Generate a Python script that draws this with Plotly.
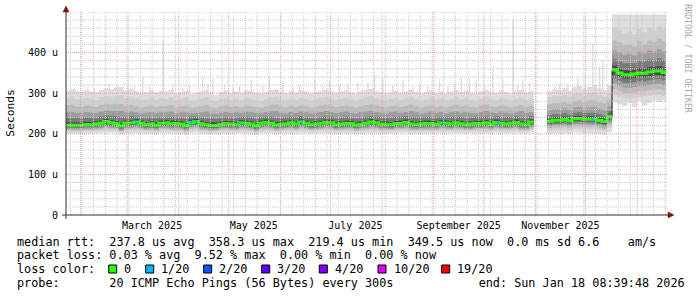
import pandas as pd
import plotly.graph_objects as go

# ---------------- data ----------------
x_start = "2025-01-23 08:39:48"
x_end = "2026-01-18 08:39:48"
seg_start = ["2025-01-22", "2025-11-08", "2025-12-17"]   # contiguous data runs
seg_len = [94, 13, 11]                                   # number of 3-day steps per run
step_days = 3

# median RTT in microseconds (per step)
median = [222, 221, 222, 221, 223, 222, 224, 226, 230, 227,
          225, 219, 226, 227, 229, 226, 222, 224, 221, 226,
          227, 225, 226, 224, 219, 228, 230, 225, 222, 220,
          221, 223, 225, 224, 222, 227, 226, 224, 219, 226,
          228, 226, 221, 223, 225, 227, 224, 229, 226, 222,
          224, 226, 228, 227, 222, 224, 226, 225, 221, 223,
          226, 229, 227, 224, 223, 222, 225, 226, 228, 224,
          222, 224, 226, 225, 223, 227, 226, 224, 227, 225,
          222, 224, 226, 225, 227, 223, 228, 226, 224, 226,
          228, 224, 222, 229,
          231, 234, 233, 235, 232, 237, 238, 236, 237, 236, 233, 230, 243,
          357, 350, 346, 345, 347, 350, 349, 352, 354, 355, 351]

# smoke bands (outer -> inner): top / bottom edges in microseconds
l1_top = [306, 309, 305, 303, 307, 304, 302, 308, 312, 310,
          314, 316, 306, 310, 305, 300, 303, 307, 302, 306,
          304, 308, 300, 303, 306, 298, 302, 305, 308, 300,
          296, 303, 306, 301, 304, 300, 307, 305, 302, 299,
          304, 308, 310, 303, 300, 305, 302, 307, 304, 300,
          303, 306, 309, 305, 301, 304, 307, 303, 300, 305,
          308, 311, 306, 303, 300, 304, 306, 302, 305, 309,
          304, 300, 303, 307, 302, 305, 300, 304, 308, 303,
          306, 302, 300, 305, 309, 304, 301, 306, 303, 300,
          304, 308, 302, 305,
          305, 310, 308, 312, 306, 315, 318, 310, 316, 320, 312, 308, 318,
          494, 494, 494, 494, 494, 494, 494, 494, 494, 494, 494]
l1_bot = [201, 200, 201, 200, 202, 201, 202, 203, 203, 202,
          203, 198, 202, 202, 203, 202, 200, 201, 199, 202,
          202, 201, 202, 201, 197, 202, 204, 201, 200, 198,
          199, 201, 202, 201, 200, 202, 202, 201, 197, 202,
          203, 202, 199, 201, 202, 202, 201, 203, 202, 200,
          201, 202, 203, 202, 200, 201, 202, 202, 199, 201,
          202, 203, 202, 201, 201, 200, 202, 202, 203, 201,
          200, 201, 202, 202, 201, 202, 202, 201, 202, 202,
          200, 201, 202, 202, 202, 201, 203, 202, 201, 202,
          203, 201, 200, 203,
          199, 201, 200, 202, 199, 203, 203, 201, 202, 201, 199, 197, 204,
          278, 272, 268, 275, 266, 280, 270, 276, 282, 279, 283]
l2_top = [288, 290, 286, 285, 289, 287, 284, 290, 293, 291,
          294, 295, 288, 290, 287, 283, 285, 289, 284, 288,
          286, 290, 283, 285, 288, 281, 284, 287, 290, 283,
          280, 285, 288, 283, 286, 282, 289, 287, 284, 281,
          286, 290, 292, 285, 282, 287, 284, 289, 286, 282,
          285, 288, 291, 287, 283, 286, 289, 285, 282, 287,
          290, 293, 288, 285, 282, 286, 288, 284, 287, 291,
          286, 282, 285, 289, 284, 287, 282, 286, 290, 285,
          288, 284, 282, 287, 291, 286, 283, 288, 285, 282,
          286, 290, 284, 287,
          290, 294, 292, 296, 291, 298, 300, 295, 300, 302, 296, 292, 300,
          462, 455, 448, 452, 445, 458, 450, 460, 455, 465, 458]
l2_bot = [206, 205, 206, 205, 207, 206, 207, 208, 209, 208,
          208, 203, 208, 208, 209, 208, 206, 207, 205, 208,
          208, 207, 208, 207, 203, 208, 210, 207, 206, 204,
          205, 207, 208, 207, 206, 208, 208, 207, 203, 208,
          209, 208, 205, 207, 208, 208, 207, 209, 208, 206,
          207, 208, 209, 208, 206, 207, 208, 208, 205, 207,
          208, 209, 208, 207, 207, 206, 208, 208, 209, 207,
          206, 207, 208, 208, 207, 208, 208, 207, 208, 208,
          206, 207, 208, 208, 208, 207, 209, 208, 207, 208,
          209, 207, 206, 209,
          209, 211, 210, 212, 209, 213, 213, 212, 213, 212, 210, 207, 215,
          296, 292, 288, 287, 289, 292, 291, 294, 296, 297, 293]
l3_top = [270, 271, 268, 267, 270, 268, 266, 271, 274, 272,
          274, 273, 269, 271, 268, 265, 267, 270, 266, 269,
          268, 271, 265, 267, 269, 264, 266, 268, 271, 265,
          263, 267, 270, 266, 268, 265, 270, 268, 266, 264,
          268, 271, 272, 267, 265, 269, 266, 270, 268, 265,
          267, 270, 272, 269, 266, 268, 270, 267, 265, 269,
          271, 273, 270, 267, 265, 268, 270, 266, 269, 272,
          268, 265, 267, 270, 266, 269, 265, 268, 271, 267,
          270, 266, 265, 269, 272, 268, 266, 270, 267, 265,
          268, 271, 266, 269,
          273, 276, 275, 278, 274, 280, 282, 278, 282, 283, 278, 275, 283,
          430, 425, 418, 420, 415, 428, 422, 430, 426, 435, 428]
l3_bot = [209, 208, 209, 208, 210, 209, 210, 211, 213, 212,
          211, 206, 211, 212, 213, 211, 209, 210, 208, 211,
          212, 210, 211, 210, 206, 212, 214, 210, 209, 207,
          208, 210, 211, 210, 209, 212, 211, 210, 206, 211,
          212, 211, 208, 210, 211, 212, 210, 213, 211, 209,
          210, 211, 213, 212, 209, 210, 211, 211, 208, 210,
          211, 213, 212, 210, 210, 209, 211, 211, 213, 210,
          209, 210, 211, 211, 210, 212, 211, 210, 212, 211,
          209, 210, 211, 211, 212, 210, 213, 211, 210, 211,
          213, 210, 209, 213,
          214, 216, 215, 217, 214, 218, 219, 217, 218, 217, 215, 212, 222,
          310, 305, 301, 300, 302, 305, 304, 307, 309, 310, 306]
l4_top = [253, 254, 252, 251, 254, 252, 251, 255, 258, 256,
          257, 256, 253, 255, 253, 250, 252, 254, 251, 253,
          253, 255, 250, 252, 253, 250, 251, 253, 255, 250,
          249, 252, 254, 251, 253, 251, 255, 253, 251, 250,
          253, 255, 256, 252, 250, 254, 251, 255, 253, 250,
          252, 254, 256, 254, 251, 253, 255, 252, 250, 254,
          255, 257, 254, 252, 250, 253, 255, 251, 254, 256,
          253, 250, 252, 255, 251, 254, 250, 253, 255, 252,
          254, 251, 250, 254, 256, 253, 251, 255, 252, 250,
          253, 256, 251, 254,
          258, 261, 260, 263, 259, 265, 266, 263, 265, 266, 262, 258, 268,
          405, 400, 395, 397, 393, 402, 398, 405, 402, 408, 403]
l4_bot = [212, 211, 212, 211, 213, 212, 213, 214, 217, 215,
          214, 209, 214, 215, 217, 214, 212, 213, 211, 214,
          215, 213, 214, 213, 209, 216, 218, 213, 212, 210,
          211, 213, 214, 213, 212, 215, 214, 213, 209, 214,
          216, 214, 211, 213, 214, 215, 213, 217, 214, 212,
          213, 214, 216, 215, 212, 213, 214, 214, 211, 213,
          214, 217, 215, 213, 213, 212, 214, 214, 216, 213,
          212, 213, 214, 214, 213, 215, 214, 213, 215, 214,
          212, 213, 214, 214, 215, 213, 216, 214, 213, 214,
          216, 213, 212, 217,
          218, 221, 220, 222, 219, 223, 224, 222, 223, 222, 220, 217, 228,
          324, 318, 314, 313, 315, 318, 317, 320, 322, 323, 319]
l5_top = [239, 240, 239, 238, 240, 239, 239, 242, 245, 243,
          243, 240, 241, 243, 242, 239, 238, 240, 238, 240,
          241, 241, 240, 239, 237, 242, 243, 240, 238, 237,
          237, 239, 241, 239, 239, 241, 242, 240, 237, 240,
          242, 242, 238, 239, 240, 242, 240, 243, 241, 238,
          239, 241, 243, 242, 238, 240, 242, 240, 237, 239,
          242, 244, 242, 240, 239, 239, 241, 241, 243, 240,
          239, 240, 241, 241, 239, 242, 241, 240, 242, 241,
          239, 240, 241, 241, 242, 239, 243, 241, 240, 241,
          243, 240, 239, 243,
          246, 249, 248, 251, 247, 252, 254, 251, 252, 252, 249, 245, 256,
          384, 378, 374, 375, 374, 380, 378, 383, 382, 386, 381]
l5_bot = [215, 214, 215, 214, 216, 215, 216, 218, 221, 219,
          218, 212, 218, 219, 221, 218, 215, 216, 214, 218,
          219, 217, 218, 216, 212, 220, 222, 217, 215, 213,
          214, 216, 217, 216, 215, 219, 218, 216, 212, 218,
          220, 218, 214, 216, 217, 219, 216, 221, 218, 215,
          216, 218, 220, 219, 215, 216, 218, 217, 214, 216,
          218, 221, 219, 216, 216, 215, 217, 218, 220, 216,
          215, 216, 218, 217, 216, 219, 218, 216, 219, 217,
          215, 216, 218, 217, 219, 216, 220, 218, 216, 218,
          220, 216, 215, 221,
          222, 225, 224, 226, 223, 228, 229, 227, 228, 227, 224, 221, 233,
          336, 330, 326, 325, 327, 330, 329, 332, 334, 335, 331]
l6_top = [229, 228, 229, 228, 230, 229, 231, 233, 237, 234,
          232, 227, 233, 234, 236, 233, 229, 231, 229, 233,
          234, 232, 233, 231, 227, 235, 237, 232, 229, 228,
          228, 230, 232, 231, 229, 234, 233, 231, 227, 233,
          235, 233, 229, 230, 232, 234, 231, 236, 233, 229,
          231, 233, 235, 234, 229, 231, 233, 232, 228, 230,
          233, 236, 234, 231, 230, 229, 232, 233, 235, 231,
          229, 231, 233, 232, 230, 234, 233, 231, 234, 232,
          229, 231, 233, 232, 234, 230, 235, 233, 231, 233,
          235, 231, 229, 236,
          238, 241, 240, 242, 239, 244, 245, 243, 244, 243, 240, 237, 250,
          368, 361, 357, 356, 358, 362, 360, 364, 365, 367, 363]
l6_bot = [218, 217, 218, 217, 219, 218, 220, 222, 225, 223,
          221, 215, 222, 223, 225, 222, 218, 220, 217, 222,
          223, 221, 222, 220, 215, 224, 226, 221, 218, 216,
          217, 219, 221, 220, 218, 223, 222, 220, 215, 222,
          224, 222, 217, 219, 221, 223, 220, 225, 222, 218,
          220, 222, 224, 223, 218, 220, 222, 221, 217, 219,
          222, 225, 223, 220, 219, 218, 221, 222, 224, 220,
          218, 220, 222, 221, 219, 223, 222, 220, 223, 221,
          218, 220, 222, 221, 223, 219, 224, 222, 220, 222,
          224, 220, 218, 225,
          226, 229, 228, 230, 227, 232, 233, 231, 232, 231, 228, 225, 238,
          346, 340, 336, 335, 337, 340, 339, 342, 344, 345, 341]

band_tops = [l1_top, l2_top, l3_top, l4_top, l5_top, l6_top]
band_bots = [l1_bot, l2_bot, l3_bot, l4_bot, l5_bot, l6_bot]
band_shades = ["#dddddd", "#cfcfcf", "#bababa", "#9d9d9d", "#7a7a7a", "#4c4c4c"]

# narrow outlier spikes of the outermost smoke band
spike_dates = ["2025-01-28", "2025-02-05", "2025-02-09", "2025-02-18", "2025-02-23",
               "2025-03-01", "2025-03-05", "2025-03-10", "2025-03-14", "2025-03-22",
               "2025-03-28", "2025-04-03", "2025-04-07", "2025-04-15", "2025-04-18",
               "2025-04-21", "2025-04-28", "2025-05-03", "2025-05-07", "2025-05-14",
               "2025-05-21", "2025-05-25", "2025-06-02", "2025-06-08", "2025-06-12",
               "2025-06-21", "2025-06-26", "2025-06-30", "2025-07-06", "2025-07-11",
               "2025-07-17", "2025-07-23", "2025-07-27", "2025-08-01", "2025-08-07",
               "2025-08-13", "2025-08-19", "2025-08-23", "2025-08-28", "2025-09-04",
               "2025-09-09", "2025-09-13", "2025-09-17", "2025-09-22", "2025-09-26",
               "2025-10-01", "2025-10-06", "2025-10-12", "2025-10-18", "2025-10-21",
               "2025-10-24", "2025-10-28", "2025-11-12", "2025-11-15", "2025-11-20",
               "2025-11-26", "2025-11-30", "2025-12-05", "2025-12-09", "2025-12-11",
               "2025-12-14"]
spike_tops = [314, 316, 312, 323, 318,
              315, 318, 340, 316, 430,
              318, 314, 320, 341, 322,
              336, 321, 316, 318, 333,
              318, 340, 330, 316, 320,
              333, 318, 330, 318, 322,
              327, 325, 345, 337, 318,
              333, 316, 320, 318, 335,
              318, 322, 340, 337, 330,
              318, 366, 333, 481, 320,
              333, 325, 316, 320, 325,
              337, 318, 421, 366, 382,
              322]

# packet-loss events (pings lost out of 20)
loss_dates = ["2025-03-06", "2025-04-08", "2025-04-11", "2025-05-07",
              "2025-06-13", "2025-09-06", "2025-10-09", "2025-12-05"]
loss_pings = [1, 1, 1, 1, 1, 1, 1, 1]

loss_labels = ["0", "1/20", "2/20", "3/20", "4/20", "10/20", "19/20"]
loss_levels = [0, 1, 2, 3, 4, 10, 19]
loss_colors = ["#26ff00", "#00b8ff", "#0059ff", "#5e00ff", "#7e00ff", "#dd00ff", "#ff0000"]

y_tickvals = [0, 100, 200, 300, 400]
y_ticktext = ["0", "100 u", "200 u", "300 u", "400 u"]
x_label_dates = ["2025-03-16", "2025-05-16", "2025-07-16", "2025-09-16", "2025-11-16", "2026-01-16"]
x_label_text = ["March 2025", "May 2025", "July 2025", "September 2025", "November 2025", "January 2026"]

legend_rtt = "median rtt:  237.8 us avg  358.3 us max  219.4 us min  349.5 us now  0.0 ms sd 6.6    am/s"
legend_loss = "packet loss: 0.03 % avg  9.52 % max  0.00 % min  0.00 % now"
legend_probe = "probe:       20 ICMP Echo Pings (56 Bytes) every 300s            end: Sun Jan 18 08:39:48 2026"

# ---------------- helpers ----------------
PL, PT, PW, PH = 66, 12, 600, 203
Y_MAX = 500
STEP = pd.Timedelta(days=step_days)
MONO = "DejaVu Sans Mono"


def pxx(x):
    return (x - PL) / PW


def pxy(y):
    return (PT + PH - y) / PH


def keep_spaces(s):
    return s.replace(" ", "\u00a0")


runs = []
k = 0
for s, n in zip(seg_start, seg_len):
    runs.append((k, n, pd.Timestamp(s)))
    k += n


def expand(vals, k0, n, t0):
    xs, ys = [], []
    for j in range(n):
        a = t0 + j * STEP
        xs += [a, a + STEP]
        ys += [vals[k0 + j], vals[k0 + j]]
    return xs, ys


def band_polygon(top, bot):
    X, Y = [], []
    for k0, n, t0 in runs:
        xt, yt = expand(top, k0, n, t0)
        xb, yb = expand(bot, k0, n, t0)
        X += xt + xb[::-1] + [xt[0], None]
        Y += yt + yb[::-1] + [yt[0], None]
    return X, Y


fig = go.Figure()

# smoke bands
for i, (top, bot, shade) in enumerate(zip(band_tops, band_bots, band_shades)):
    X, Y = band_polygon(top, bot)
    fig.add_trace(go.Scatter(x=X, y=Y, mode="lines", fill="toself", fillcolor=shade,
                             line=dict(width=0, color=shade), hoverinfo="skip"))
    if i == 0:
        SX, SY = [], []
        half = pd.Timedelta(hours=10)
        for d, t in zip(spike_dates, spike_tops):
            c = pd.Timestamp(d) + pd.Timedelta(hours=12)
            SX += [c - half, c + half, c + half, c - half, c - half, None]
            SY += [275, 275, t, t, 275, None]
        fig.add_trace(go.Scatter(x=SX, y=SY, mode="lines", fill="toself", fillcolor=shade,
                                 line=dict(width=0, color=shade), hoverinfo="skip"))

# dark median line (connects contiguous runs)
BX, BY = [], []
prev_end = None
for k0, n, t0 in runs:
    xs, ys = expand(median, k0, n, t0)
    if prev_end is not None and t0 != prev_end:
        BX.append(None)
        BY.append(None)
    BX += xs
    BY += ys
    prev_end = t0 + n * STEP
fig.add_trace(go.Scatter(x=BX, y=BY, mode="lines", line=dict(color="#1a1a1a", width=1),
                         hoverinfo="skip"))

# coloured median (loss 0) per run
GX, GY = [], []
for k0, n, t0 in runs:
    xs, ys = expand(median, k0, n, t0)
    GX += xs + [None]
    GY += ys + [None]
fig.add_trace(go.Scatter(x=GX, y=GY, mode="lines", line=dict(color=loss_colors[0], width=3),
                         hoverinfo="skip"))

# loss markers on median
for d, p in zip(loss_dates, loss_pings):
    t = pd.Timestamp(d) + pd.Timedelta(hours=12)
    val = None
    for k0, n, t0 in runs:
        j = int((t - t0) / STEP)
        if 0 <= j < n:
            val = median[k0 + j]
    if val is None:
        continue
    col = loss_colors[loss_levels.index(p)]
    fig.add_trace(go.Scatter(x=[t - pd.Timedelta(hours=12), t + pd.Timedelta(hours=12)],
                             y=[val, val], mode="lines", line=dict(color=col, width=3),
                             hoverinfo="skip"))

# ---------------- grid (drawn above smoke, like rrdtool) ----------------
shapes = []
GRID_MINOR = "#c8c8c8"
GRID_MAJOR = "#e8a0a0"
for d in pd.date_range("2025-01-26", x_end, freq="7D"):
    shapes.append(dict(type="line", xref="x", yref="paper", x0=d, x1=d, y0=0, y1=1,
                       line=dict(color=GRID_MINOR, width=1, dash="1px,1px"), layer="above"))
for d in pd.date_range("2025-02-01", x_end, freq="MS"):
    shapes.append(dict(type="line", xref="x", yref="paper", x0=d, x1=d, y0=0, y1=1,
                       line=dict(color=GRID_MAJOR, width=1, dash="1px,1px"), layer="above"))
for v in range(20, Y_MAX + 1, 20):
    col = GRID_MAJOR if (v % 100 == 0 and v < Y_MAX) else GRID_MINOR
    shapes.append(dict(type="line", xref="paper", yref="y", x0=0, x1=pxx(668), y0=v, y1=v,
                       line=dict(color=col, width=1, dash="1px,1px"), layer="above"))

# axes lines and arrows
AX = "#303030"
ARROW = "#7f1010"
shapes.append(dict(type="line", xref="paper", yref="paper", x0=pxx(62), x1=pxx(669),
                   y0=0, y1=0, line=dict(color=AX, width=1), layer="above"))
shapes.append(dict(type="line", xref="paper", yref="paper", x0=0, x1=0,
                   y0=pxy(219), y1=pxy(9), line=dict(color=AX, width=1), layer="above"))
shapes.append(dict(type="path", xref="paper", yref="paper",
                   path=f"M {pxx(63)},{pxy(12)} L {pxx(69)},{pxy(12)} L {pxx(66)},{pxy(6)} Z",
                   fillcolor=ARROW, line=dict(color=ARROW, width=0.5), layer="above"))
shapes.append(dict(type="path", xref="paper", yref="paper",
                   path=f"M {pxx(668)},{pxy(212)} L {pxx(668)},{pxy(218)} L {pxx(674)},{pxy(215)} Z",
                   fillcolor=ARROW, line=dict(color=ARROW, width=0.5), layer="above"))

# ---------------- legend block ----------------
LFONT = dict(family=MONO, size=11.8, color="#000000")
annotations = []


def txt(x, y, s, **kw):
    d = dict(text=keep_spaces(s), x=pxx(x), y=pxy(y), xref="paper", yref="paper",
             showarrow=False, xanchor="left", yanchor="middle", font=LFONT, borderpad=0)
    d.update(kw)
    annotations.append(d)


txt(16, 241.7, legend_rtt)
txt(16, 255.2, legend_loss)
txt(16, 282.7, legend_probe)
txt(16, 269.3, "loss color:")
box_x = [108.7, 145.7, 203.7, 261.7, 319.3, 378.0, 441.7]
for bx, lab, col in zip(box_x, loss_labels, loss_colors):
    shapes.append(dict(type="rect", xref="paper", yref="paper", x0=pxx(bx), x1=pxx(bx + 8),
                       y0=pxy(273), y1=pxy(265), fillcolor=col,
                       line=dict(color="#000000", width=1), layer="above"))
    txt(bx + 14.6, 269.3, lab)

# y-axis title and watermark
annotations.append(dict(text="Seconds", x=pxx(10.7), y=pxy(113), xref="paper", yref="paper",
                        showarrow=False, textangle=-90, xanchor="center", yanchor="middle",
                        font=dict(family=MONO, size=11.3, color="#000000")))
annotations.append(dict(text="RRDTOOL / TOBI OETIKER", x=pxx(687.7), y=pxy(59), xref="paper",
                        yref="paper", showarrow=False, textangle=90, xanchor="center",
                        yanchor="middle", font=dict(family=MONO, size=8.2, color="#a8a8a8")))

fig.update_layout(
    template="none",
    width=697, height=297,
    margin=dict(l=PL, r=697 - PL - PW, t=PT, b=297 - PT - PH, pad=0),
    paper_bgcolor="#ffffff", plot_bgcolor="#ffffff",
    showlegend=False,
    shapes=shapes,
    annotations=annotations,
    xaxis=dict(type="date", range=[x_start, x_end], tickmode="array",
               tickvals=x_label_dates, ticktext=x_label_text, showgrid=False,
               zeroline=False, showline=False, ticks="", automargin=False,
               ticklabelstandoff=3,
               tickfont=dict(family=MONO, size=10, color="#000000")),
    yaxis=dict(range=[0, Y_MAX], tickmode="array", tickvals=y_tickvals, ticktext=y_ticktext,
               showgrid=False, zeroline=False, showline=False, ticks="", automargin=False,
               ticklabelstandoff=7,
               tickfont=dict(family=MONO, size=10, color="#000000")),
)

fig.write_html("out.html")
